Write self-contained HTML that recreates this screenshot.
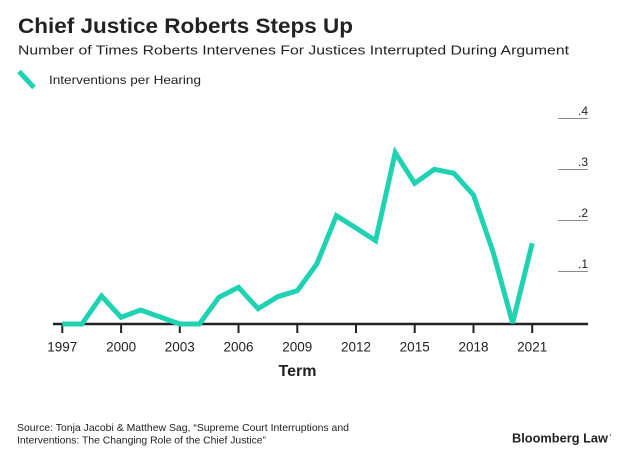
<!DOCTYPE html>
<html>
<head>
<meta charset="utf-8">
<style>
  html, body { margin:0; padding:0; background:#fff; }
  svg { display:block; }
  text { font-family: "Liberation Sans", sans-serif; fill:#222; }
</style>
</head>
<body>
<svg width="633" height="461" viewBox="0 0 633 461" xmlns="http://www.w3.org/2000/svg">
  <rect width="633" height="461" fill="#fff"/>
  <!-- Title -->
  <text x="18" y="33" font-size="21" font-weight="bold" textLength="335" lengthAdjust="spacingAndGlyphs">Chief Justice Roberts Steps Up</text>
  <text x="18" y="54.5" font-size="12.8" textLength="551" lengthAdjust="spacingAndGlyphs">Number of Times Roberts Intervenes For Justices Interrupted During Argument</text>
  <!-- Legend -->
  <line x1="19" y1="71.5" x2="34" y2="87.5" stroke="#1ed2b2" stroke-width="5"/>
  <text x="49" y="84" font-size="11.8" textLength="152" lengthAdjust="spacingAndGlyphs">Interventions per Hearing</text>

  <!-- Y gridlines and labels -->
  <g stroke="#8a8a8a" stroke-width="1">
    <line x1="558" y1="118.5" x2="588" y2="118.5"/>
    <line x1="558" y1="169.5" x2="588" y2="169.5"/>
    <line x1="558" y1="220.5" x2="588" y2="220.5"/>
    <line x1="558" y1="271.5" x2="588" y2="271.5"/>
  </g>
  <g font-size="12" text-anchor="end">
    <text x="588" y="115">.4</text>
    <text x="588" y="166">.3</text>
    <text x="588" y="217">.2</text>
    <text x="588" y="268">.1</text>
  </g>

  <!-- X axis -->
  <line x1="53" y1="324" x2="588" y2="324" stroke="#222" stroke-width="2.5"/>
  <g stroke="#222" stroke-width="2">
    <line x1="62.3" y1="324" x2="62.3" y2="333"/>
    <line x1="121.1" y1="324" x2="121.1" y2="333"/>
    <line x1="179.8" y1="324" x2="179.8" y2="333"/>
    <line x1="238.5" y1="324" x2="238.5" y2="333"/>
    <line x1="297.3" y1="324" x2="297.3" y2="333"/>
    <line x1="356.0" y1="324" x2="356.0" y2="333"/>
    <line x1="414.7" y1="324" x2="414.7" y2="333"/>
    <line x1="473.5" y1="324" x2="473.5" y2="333"/>
    <line x1="532.2" y1="324" x2="532.2" y2="333"/>
  </g>
  <g font-size="13.5" text-anchor="middle">
    <text x="62.3" y="351.5">1997</text>
    <text x="121.1" y="351.5">2000</text>
    <text x="179.8" y="351.5">2003</text>
    <text x="238.5" y="351.5">2006</text>
    <text x="297.3" y="351.5">2009</text>
    <text x="356.0" y="351.5">2012</text>
    <text x="414.7" y="351.5">2015</text>
    <text x="473.5" y="351.5">2018</text>
    <text x="532.2" y="351.5">2021</text>
  </g>
  <text x="297.5" y="376" font-size="16" font-weight="bold" text-anchor="middle">Term</text>

  <!-- Series -->
  <polyline fill="none" stroke="#1ed2b2" stroke-width="5" stroke-linejoin="miter" stroke-miterlimit="3"
    points="62.3,324 81.9,324 101.5,296 121.1,317.3 140.6,310 160.2,317 179.8,324 199.4,324 218.9,297.3 238.5,287.3 258.1,308.7 277.7,296.7 297.3,290.7 316.8,264 336.4,215.7 356.0,228 375.6,240.7 395.2,152.7 414.7,183.3 434.3,169.3 453.9,173.3 473.5,195 493.0,251.7 512.6,323 532.2,243.3"/>

  <!-- Source -->
  <text x="17" y="431" font-size="10.3" textLength="332" lengthAdjust="spacingAndGlyphs">Source: Tonja Jacobi &amp; Matthew Sag, “Supreme Court Interruptions and</text>
  <text x="17" y="443.5" font-size="10.3" textLength="249" lengthAdjust="spacingAndGlyphs">Interventions: The Changing Role of the Chief Justice”</text>

  <!-- Logo -->
  <text x="512" y="442.5" font-size="12.5" font-weight="bold" fill="#222" textLength="96" lengthAdjust="spacingAndGlyphs">Bloomberg Law</text>
  <circle cx="610.5" cy="435" r="0.7" fill="#444"/>
</svg>
</body>
</html>
